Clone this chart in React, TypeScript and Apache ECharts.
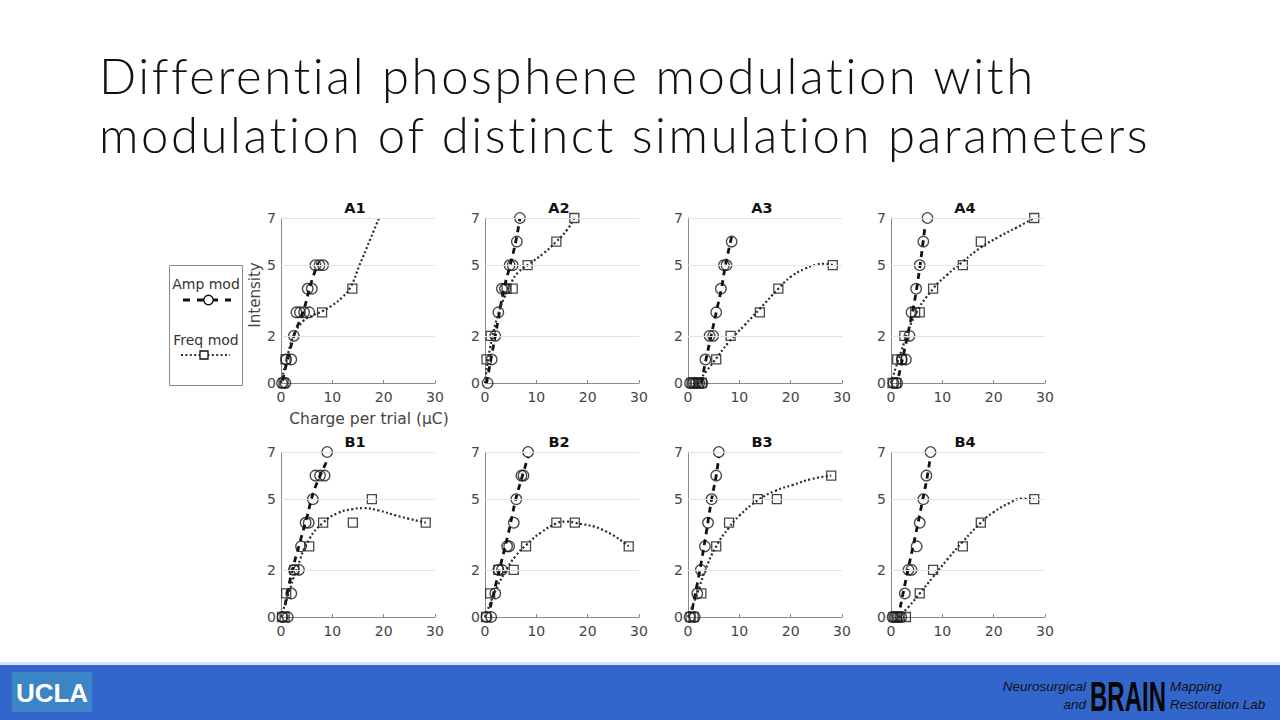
import React, { useEffect, useRef } from "react";
import * as echarts from "echarts";

// ---- Data ----
const PANEL_NAMES = ["A1", "A2", "A3", "A4", "B1", "B2", "B3", "B4"];
const X_TICKS = [0, 10, 20, 30];
const Y_TICKS = [0, 2, 5, 7];
const GRID_LINES = [2, 5, 7];

// Amp mod (circles) and Freq mod (squares): [charge µC, intensity]
const A1_amp = [[0.2, 0], [0.85, 0], [1.0, 1], [2.0, 1], [2.5, 2], [3.0, 3], [3.7, 3], [4.5, 3], [5.5, 3], [5.2, 4], [6.0, 4], [6.7, 5], [7.5, 5], [8.2, 5]];
const A1_freq = [[0.5, 0], [0.9, 1], [8.0, 3], [13.9, 4]];
const A1_ampFit = [[0.3, 0.1], [2.5, 2], [4.3, 3], [5.8, 4.2], [7.2, 5.1]];
const A1_freqFit = [[0, 0], [1, 0.9], [2.3, 1.9], [4.2, 2.6], [6, 2.85], [8.1, 3.05], [10, 3.3], [12, 3.65], [13.5, 4.05], [15.3, 5.0], [17.2, 6.0], [19.1, 7]];

const A2_amp = [[0.5, 0], [1.3, 1], [2.0, 2], [2.6, 3], [3.3, 4], [3.9, 4], [4.8, 5], [5.4, 5], [6.2, 6], [6.8, 7]];
const A2_freq = [[0.3, 1], [1.1, 2], [4.2, 4], [5.4, 4], [8.3, 5], [13.9, 6], [17.4, 7]];
const A2_ampFit = [[0.3, 0], [2.0, 2], [3.7, 4], [4.9, 5], [6.0, 6], [6.8, 7]];
const A2_freqFit = [[0, 0], [1, 1.5], [2.6, 2.95], [3.9, 3.7], [5.2, 4.3], [6.5, 4.7], [8.3, 5.0], [11.4, 5.5], [13.9, 6.0], [16, 6.5], [17.4, 7]];

const A3_amp = [[0.4, 0], [1.0, 0], [1.6, 0], [2.2, 0], [2.8, 0], [3.4, 1], [4.2, 2], [4.9, 2], [5.5, 3], [6.4, 4], [7.0, 5], [7.5, 5], [8.5, 6]];
const A3_freq = [[0.7, 0], [1.3, 0], [2.0, 0], [2.7, 0], [5.5, 1], [8.3, 2], [14.0, 3], [17.6, 4], [28.2, 5]];
const A3_ampFit = [[2.6, 0], [3.5, 1], [4.5, 2], [5.5, 3], [6.5, 4], [7.3, 5], [8.6, 6.3]];
const A3_freqFit = [[1.8, 0], [5, 0.9], [8, 1.75], [11, 2.45], [14, 3.15], [17.6, 4.0], [20, 4.5], [22.8, 4.85], [25, 5.02], [26.5, 5.06], [28.2, 5.0]];

const A4_amp = [[0.5, 0], [1.2, 0], [2.1, 1], [2.9, 1], [3.6, 2], [4.0, 3], [4.9, 4], [5.6, 5], [6.3, 6], [7.1, 7]];
const A4_freq = [[0.3, 0], [1.0, 0], [1.2, 1], [2.1, 1], [2.6, 2], [4.7, 3], [5.6, 3], [8.2, 4], [14.0, 5], [17.5, 6], [27.9, 7]];
const A4_ampFit = [[1.5, 0.3], [3.4, 2.2], [5.0, 4.0], [6.6, 6.6]];
const A4_freqFit = [[0, 0], [2, 1.35], [4.5, 2.8], [8.2, 4.0], [11, 4.6], [14, 5.15], [17.5, 5.75], [21, 6.2], [24.5, 6.6], [27.9, 7]];

const B1_amp = [[0.3, 0], [1.3, 0], [2.0, 1], [2.5, 2], [3.5, 2], [3.9, 3], [4.8, 4], [5.4, 4], [6.2, 5], [6.7, 6], [7.6, 6], [8.5, 6], [9.0, 7]];
const B1_freq = [[0.2, 0], [0.7, 0], [1.0, 1], [2.6, 2], [5.5, 3], [8.2, 4], [14.0, 4], [17.7, 5], [28.2, 4]];
const B1_ampFit = [[0.8, 0.5], [2.0, 1.8], [3.6, 3.1], [5.0, 4.2], [6.5, 5.4], [8.9, 6.6]];
const B1_freqFit = [[0, 0], [1.5, 1.0], [3, 2.0], [5.5, 3.3], [8.2, 4.0], [11, 4.4], [14, 4.58], [16, 4.62], [19, 4.52], [22.5, 4.3], [28.2, 4.0]];

const B2_amp = [[0.3, 0], [1.2, 0], [2.0, 1], [2.6, 2], [3.3, 2], [4.3, 3], [4.7, 3], [5.6, 4], [6.1, 5], [7.1, 6], [7.5, 6], [8.4, 7]];
const B2_freq = [[0.2, 0], [1.0, 1], [2.6, 2], [5.6, 2], [8.0, 3], [13.9, 4], [17.5, 4], [28.0, 3]];
const B2_ampFit = [[1, 0.4], [2.8, 2.0], [4.5, 3.5], [6.0, 5.0], [7.3, 6.0], [8.4, 6.8]];
const B2_freqFit = [[0, 0], [2, 1.1], [3.9, 1.9], [6, 2.6], [8, 3.05], [11, 3.6], [13.9, 3.97], [15.7, 4.05], [17.5, 4.0], [22.9, 3.7], [28, 3.0]];

const B3_amp = [[0.3, 0], [1.3, 0], [1.8, 1], [2.5, 2], [3.3, 3], [3.9, 4], [4.6, 5], [5.5, 6], [6.0, 7]];
const B3_freq = [[0.5, 0], [1.1, 0], [2.6, 1], [5.5, 3], [8.0, 4], [13.6, 5], [17.3, 5], [27.9, 6]];
const B3_ampFit = [[0.8, 0.3], [2.4, 2.1], [3.5, 3.5], [4.6, 5.0], [5.5, 6.0], [6.0, 6.8]];
const B3_freqFit = [[0, 0], [1.8, 1.0], [3.4, 2.0], [5.5, 3.0], [8, 3.8], [10, 4.3], [13.6, 4.95], [17, 5.35], [20.4, 5.6], [24, 5.85], [27.9, 6.0]];

const B4_amp = [[0.3, 0], [0.8, 0], [1.4, 0], [2.0, 0], [2.7, 1], [3.4, 2], [4.0, 2], [5.0, 3], [5.6, 4], [6.3, 5], [6.9, 6], [7.7, 7]];
const B4_freq = [[0.5, 0], [1.1, 0], [1.7, 0], [2.9, 0], [5.6, 1], [8.2, 2], [14.0, 3], [17.5, 4], [27.9, 5]];
const B4_ampFit = [[1.8, 0.4], [3.2, 1.9], [4.8, 3.5], [6.2, 5.0], [7.1, 6.0], [7.6, 6.7]];
const B4_freqFit = [[1.5, 0], [3.5, 0.45], [5.6, 1.0], [8.2, 1.7], [11, 2.45], [14, 3.2], [17.5, 4.0], [20, 4.45], [23.2, 4.85], [25.5, 5.02], [27.9, 5.0]];

const PANELS = [
  { amp: A1_amp, freq: A1_freq, ampFit: A1_ampFit, freqFit: A1_freqFit },
  { amp: A2_amp, freq: A2_freq, ampFit: A2_ampFit, freqFit: A2_freqFit },
  { amp: A3_amp, freq: A3_freq, ampFit: A3_ampFit, freqFit: A3_freqFit },
  { amp: A4_amp, freq: A4_freq, ampFit: A4_ampFit, freqFit: A4_freqFit },
  { amp: B1_amp, freq: B1_freq, ampFit: B1_ampFit, freqFit: B1_freqFit },
  { amp: B2_amp, freq: B2_freq, ampFit: B2_ampFit, freqFit: B2_freqFit },
  { amp: B3_amp, freq: B3_freq, ampFit: B3_ampFit, freqFit: B3_freqFit },
  { amp: B4_amp, freq: B4_freq, ampFit: B4_ampFit, freqFit: B4_freqFit },
];

// ---- Layout ----
const COL_LEFT = [281, 485, 688, 891];
const ROW_TOP = [218, 452];
const GW = 154;
const GH = 165;
const AX_FONT = "DejaVu Sans, Verdana, sans-serif";
const TITLE_FONT = "Lato, 'Open Sans', sans-serif";
const SANS = "'Liberation Sans', Arial, sans-serif";

export default function App() {
  const ref = useRef<HTMLDivElement>(null);

  useEffect(() => {
    if (!ref.current) return;
    const chart = echarts.init(ref.current, null, { renderer: "svg" });

    const grids: any[] = [];
    const xAxes: any[] = [];
    const yAxes: any[] = [];
    const series: any[] = [];
    const graphics: any[] = [];

    PANELS.forEach((p, i) => {
      const left = COL_LEFT[i % 4];
      const top = ROW_TOP[Math.floor(i / 4)];
      grids.push({ left, top, width: GW, height: GH, containLabel: false });
      xAxes.push({
        type: "value",
        gridIndex: i,
        min: 0,
        max: 30,
        interval: 10,
        axisLine: { show: true, lineStyle: { color: "#8a8a8a", width: 1 } },
        axisTick: { show: true, inside: true, length: 3, lineStyle: { color: "#8a8a8a" } },
        axisLabel: {
          color: "#454545",
          fontSize: 14,
          fontFamily: AX_FONT,
          margin: 7,
          customValues: X_TICKS,
        },
        splitLine: { show: false },
      });
      yAxes.push({
        type: "value",
        gridIndex: i,
        min: 0,
        max: 7,
        interval: 1,
        axisLine: { show: true, onZero: false, lineStyle: { color: "#8a8a8a", width: 1 } },
        axisTick: { show: true, inside: true, length: 3, customValues: Y_TICKS, lineStyle: { color: "#8a8a8a" } },
        axisLabel: {
          color: "#454545",
          fontSize: 14,
          fontFamily: AX_FONT,
          margin: 5,
          customValues: Y_TICKS,
        },
        splitLine: { show: false },
      });
      // light horizontal grid lines
      series.push({
        type: "line",
        xAxisIndex: i,
        yAxisIndex: i,
        data: [],
        z: 1,
        silent: true,
        markLine: {
          silent: true,
          symbol: ["none", "none"],
          label: { show: false },
          lineStyle: { color: "#e2e2e2", width: 1, type: "solid" },
          data: GRID_LINES.map((v) => ({ yAxis: v })),
        },
      });
      series.push({
        name: "Amp mod",
        type: "scatter",
        xAxisIndex: i,
        yAxisIndex: i,
        data: p.amp,
        symbol: "circle",
        symbolSize: 10.5,
        z: 3,
        itemStyle: { color: "rgba(0,0,0,0)", borderColor: "#1a1a1a", borderWidth: 1.3 },
      });
      series.push({
        name: "Freq mod",
        type: "scatter",
        xAxisIndex: i,
        yAxisIndex: i,
        data: p.freq,
        symbol: "rect",
        symbolSize: 9,
        z: 3,
        itemStyle: { color: "rgba(0,0,0,0)", borderColor: "#1a1a1a", borderWidth: 1.3 },
      });
      series.push({
        type: "line",
        xAxisIndex: i,
        yAxisIndex: i,
        data: p.ampFit,
        smooth: 0.4,
        showSymbol: false,
        symbol: "none",
        z: 4,
        lineStyle: { color: "#111", width: 2.8, type: [6, 5] },
      });
      series.push({
        type: "line",
        xAxisIndex: i,
        yAxisIndex: i,
        data: p.freqFit,
        smooth: 0.5,
        showSymbol: false,
        symbol: "none",
        z: 4,
        lineStyle: { color: "#2a2a2a", width: 2.2, type: [2, 2.4] },
      });
      graphics.push({
        type: "text",
        x: left + GW / 2 - 3,
        y: top - 10,
        style: {
          text: PANEL_NAMES[i],
          fontSize: 14.5,
          fontWeight: "bold",
          fontFamily: AX_FONT,
          fill: "#111",
          align: "center",
          verticalAlign: "middle",
        },
      });
    });

    // Title
    const titleStyle = {
      fontSize: 49,
      fontWeight: 300,
      fontFamily: TITLE_FONT,
      fill: "#111",
      align: "left",
      verticalAlign: "middle",
    };
    graphics.push(
      { type: "text", x: 99, y: 75, style: { ...titleStyle, text: "Differential phosphene modulation with" } },
      { type: "text", x: 99, y: 134, style: { ...titleStyle, text: "modulation of distinct simulation parameters" } }
    );

    // Axis names (first panel)
    graphics.push(
      {
        type: "text",
        x: 255,
        y: 295,
        rotation: Math.PI / 2,
        style: { text: "Intensity", fontSize: 15, fontFamily: AX_FONT, fill: "#444", align: "center", verticalAlign: "middle" },
      },
      {
        type: "text",
        x: 369,
        y: 419,
        style: { text: "Charge per trial (\u03bcC)", fontSize: 15.5, fontFamily: AX_FONT, fill: "#444", align: "center", verticalAlign: "middle" },
      }
    );

    // Legend box
    graphics.push(
      {
        type: "rect",
        shape: { x: 169.5, y: 265.5, width: 73, height: 120 },
        style: { fill: "#fff", stroke: "#8a8a8a", lineWidth: 1 },
      },
      {
        type: "text",
        x: 206,
        y: 284,
        style: { text: "Amp mod", fontSize: 14, fontFamily: AX_FONT, fill: "#333", align: "center", verticalAlign: "middle" },
      },
      {
        type: "line",
        shape: { x1: 183, y1: 300, x2: 231, y2: 300 },
        style: { stroke: "#111", lineWidth: 2.8, lineDash: [7, 7] },
      },
      {
        type: "circle",
        shape: { cx: 208.5, cy: 300, r: 4.7 },
        style: { fill: "#fff", stroke: "#111", lineWidth: 1.3 },
      },
      {
        type: "text",
        x: 206,
        y: 340,
        style: { text: "Freq mod", fontSize: 14, fontFamily: AX_FONT, fill: "#333", align: "center", verticalAlign: "middle" },
      },
      {
        type: "line",
        shape: { x1: 181, y1: 355, x2: 230, y2: 355 },
        style: { stroke: "#333", lineWidth: 2.2, lineDash: [2, 2.4] },
      },
      {
        type: "rect",
        shape: { x: 200, y: 351, width: 8, height: 8 },
        style: { fill: "#fff", stroke: "#111", lineWidth: 1.3 },
      }
    );

    // Footer
    graphics.push(
      { type: "rect", shape: { x: 0, y: 662, width: 1280, height: 3 }, style: { fill: "#d6e4f2" } },
      { type: "rect", shape: { x: 0, y: 665, width: 1280, height: 55 }, style: { fill: "#3366cc" } },
      { type: "rect", shape: { x: 12, y: 672, width: 80, height: 40 }, style: { fill: "#3b84c6" } },
      {
        type: "text",
        x: 52,
        y: 693,
        style: { text: "UCLA", fontSize: 26, fontWeight: "bold", fontFamily: SANS, fill: "#fff", align: "center", verticalAlign: "middle" },
      },
      {
        type: "text",
        x: 1086,
        y: 686,
        style: { text: "Neurosurgical", fontSize: 13.5, fontStyle: "italic", fontFamily: SANS, fill: "#111", align: "right", verticalAlign: "middle" },
      },
      {
        type: "text",
        x: 1086,
        y: 704,
        style: { text: "and", fontSize: 13.5, fontStyle: "italic", fontFamily: SANS, fill: "#111", align: "right", verticalAlign: "middle" },
      },
      {
        type: "text",
        x: 1090,
        y: 696,
        scaleY: 1.8,
        style: { text: "BRAIN", fontSize: 24, fontWeight: "bold", fontFamily: SANS, fill: "#050505", align: "left", verticalAlign: "middle" },
      },
      {
        type: "text",
        x: 1170,
        y: 686,
        style: { text: "Mapping", fontSize: 13.5, fontStyle: "italic", fontFamily: SANS, fill: "#111", align: "left", verticalAlign: "middle" },
      },
      {
        type: "text",
        x: 1170,
        y: 704,
        style: { text: "Restoration Lab", fontSize: 13.5, fontStyle: "italic", fontFamily: SANS, fill: "#111", align: "left", verticalAlign: "middle" },
      }
    );

    chart.setOption({
      animation: false,
      backgroundColor: "#ffffff",
      grid: grids,
      xAxis: xAxes,
      yAxis: yAxes,
      series,
      graphic: graphics,
    });

    return () => chart.dispose();
  }, []);

  return (
    <>
      <style>
        {"svg text { font-variant-ligatures: none; font-feature-settings: 'liga' 0, 'clig' 0; } svg text[style*='Lato'] { letter-spacing: 2.6px; }"}
      </style>
      <div
        ref={ref}
        style={{ position: "fixed", left: 0, top: 0, width: 1280, height: 720, background: "#fff" }}
      />
    </>
  );
}
